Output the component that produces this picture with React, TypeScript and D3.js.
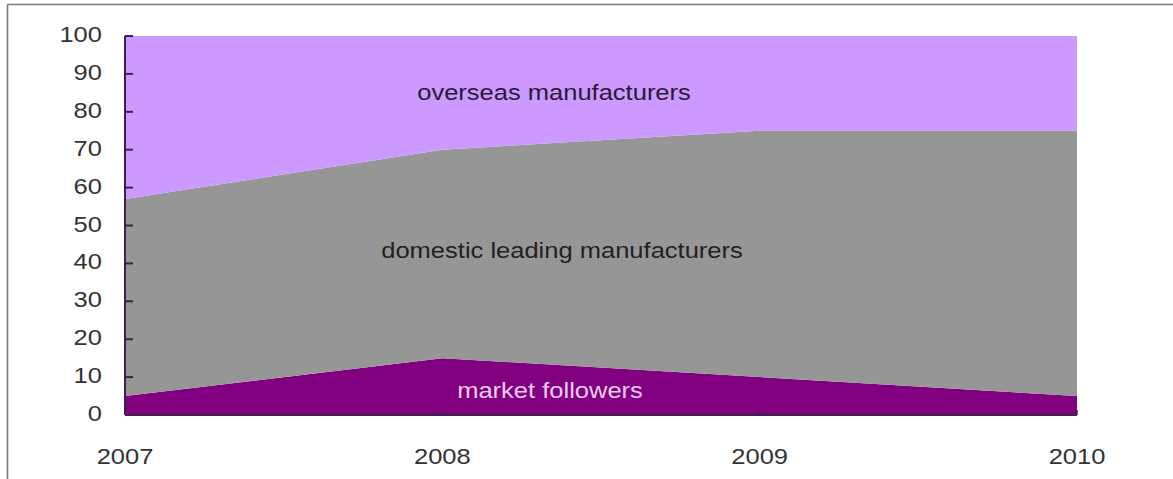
import React from "react";
import * as d3 from "d3";

const years = ["2007", "2008", "2009", "2010"];
const marketFollowers = [5, 15, 10, 5];
const domesticLeading = [52, 55, 65, 70];
const overseas = [43, 30, 25, 25];
const yTicks = [0, 10, 20, 30, 40, 50, 60, 70, 80, 90, 100];

const seriesKeys = ["market followers", "domestic leading manufacturers", "overseas manufacturers"];
const seriesColors = ["#800080", "#969696", "#CC99FF"];

const W = 1173;
const H = 479;
const FONT = "'Liberation Sans', Arial, sans-serif";
const SX = 1.16;

export default function App() {
  const rows = years.map((y, i) => ({
    year: y,
    [seriesKeys[0]]: marketFollowers[i],
    [seriesKeys[1]]: domesticLeading[i],
    [seriesKeys[2]]: overseas[i],
  }));
  const stack = d3.stack<any>().keys(seriesKeys)(rows);
  const x = d3.scalePoint<string>().domain(years).range([125, 1077]);
  const y = d3.scaleLinear().domain([0, 100]).range([415, 36]);
  const area = d3
    .area<any>()
    .x((d) => x(d.data.year)!)
    .y0((d) => y(d[0]))
    .y1((d) => y(d[1]));

  const axisColor = "#3e2050";

  const label = (text: string, cx: number, by: number, fill: string) => (
    <g transform={`translate(${cx},${by}) scale(${SX},1)`}>
      <text textAnchor="middle" fontSize={22} fontFamily={FONT} fill={fill}>
        {text}
      </text>
    </g>
  );

  return (
    <svg width={W} height={H} style={{ position: "absolute", left: 0, top: 0, background: "#fff" }}>
      <line x1={7.5} y1={4.5} x2={W} y2={4.5} stroke="#7a7a7a" strokeWidth={1.6} />
      <line x1={7.5} y1={4.5} x2={7.5} y2={H} stroke="#7a7a7a" strokeWidth={1.6} />

      {stack.map((s, i) => (
        <path key={s.key} d={area(s as any)!} fill={seriesColors[i]} />
      ))}

      {/* y axis */}
      <line x1={x("2007")} y1={y(100)} x2={x("2007")} y2={y(0)} stroke={axisColor} strokeWidth={2} />
      {yTicks.map((t) => (
        <g key={t}>
          <line x1={x("2007")!} x2={x("2007")! + 8} y1={y(t)} y2={y(t)} stroke={axisColor} strokeWidth={2} />
          <g transform={`translate(102,${y(t) + 6}) scale(${SX},1)`}>
            <text textAnchor="end" fontSize={22} fontFamily={FONT} fill="#333">
              {t}
            </text>
          </g>
        </g>
      ))}

      {/* x axis */}
      <line x1={x("2007")} y1={y(0)} x2={x("2010")} y2={y(0)} stroke={axisColor} strokeWidth={2} />
      {years.map((yr) => (
        <g key={yr}>
          <line x1={x(yr)} x2={x(yr)} y1={y(0)} y2={y(0) - 5} stroke={axisColor} strokeWidth={1.5} />
          <g transform={`translate(${x(yr)},${y(0) + 49}) scale(${SX},1)`}>
            <text textAnchor="middle" fontSize={22} fontFamily={FONT} fill="#333">
              {yr}
            </text>
          </g>
        </g>
      ))}

      {label("overseas manufacturers", 554, 100, "#2a1838")}
      {label("domestic leading manufacturers", 562, 258, "#222")}
      {label("market followers", 550, 398, "#F2CCF2")}
    </svg>
  );
}
